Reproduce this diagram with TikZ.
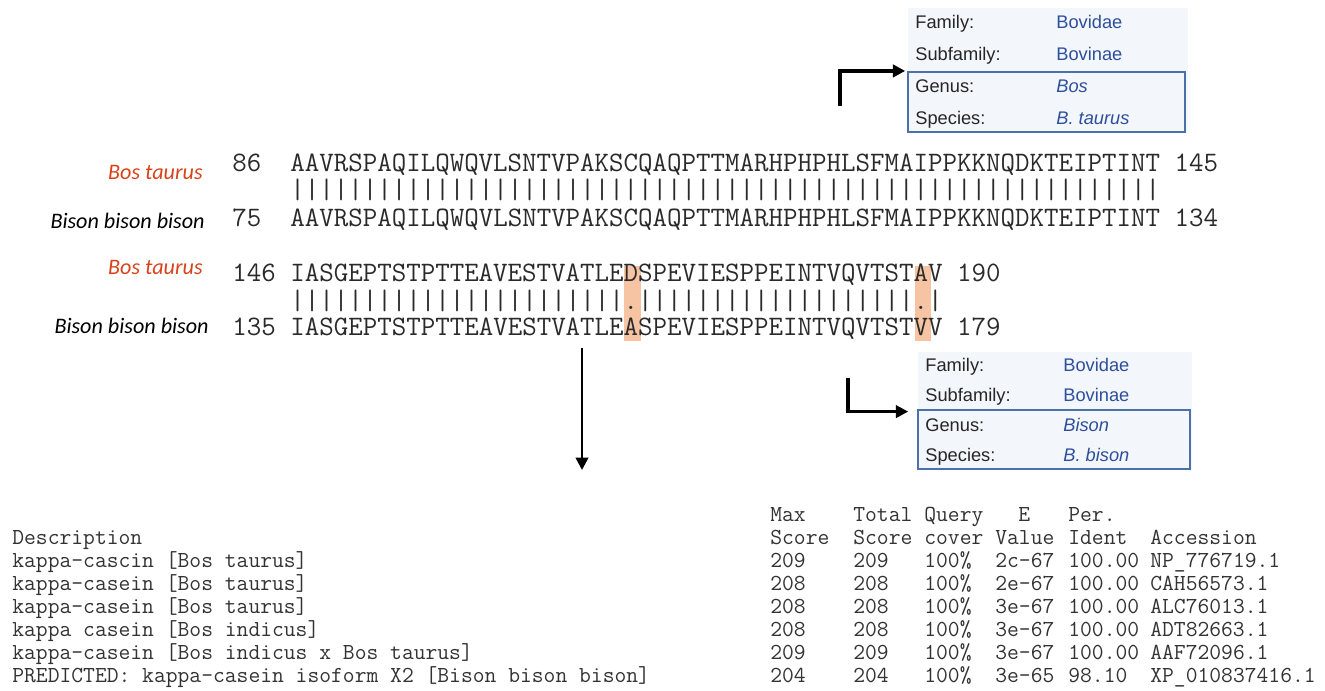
\documentclass[tikz,border=0pt]{standalone}
\usepackage{fontspec}
\usepackage{tikz}
\usetikzlibrary{arrows.meta}
\newfontfamily\taxfont{Liberation Sans}
\newfontfamily\spfont{Carlito}
\definecolor{taxblue}{HTML}{2E4F9C}
\definecolor{boxblue}{HTML}{4A72A8}
\definecolor{taxbg}{HTML}{F3F6FA}
\definecolor{hilite}{HTML}{F6C4A2}
\definecolor{bosred}{HTML}{D8431B}
\definecolor{seqgray}{HTML}{2A2A2A}
\tikzset{
  seq/.style={anchor=base west, inner sep=0pt, text=seqgray, font=\ttfamily\fontsize{16.02pt}{18pt}\selectfont},
  tbl/.style={anchor=base west, inner sep=0pt, text=black!80, font=\ttfamily\fontsize{13.05pt}{15pt}\selectfont},
  species/.style={anchor=base east, inner sep=0pt, font=\spfont\itshape\fontsize{12.6pt}{15pt}\selectfont},
  taxkey/.style={anchor=base west, inner sep=0pt, text=black!85, font=\taxfont\fontsize{10.4pt}{12pt}\selectfont},
  taxval/.style={taxkey, text=taxblue},
  genusbox/.style={draw=boxblue, line width=1.2pt, inner sep=0pt},
  bendarrow/.style={-{Triangle[length=7pt,width=7pt]}, line width=2pt},
}

\begin{document}
\begin{tikzpicture}[x=0.02cm, y=-0.02cm]
\useasboundingbox (0,0) rectangle (1325,690);

% taxonomy of Bos taurus
\fill[taxbg] (908,8) rectangle (1188,133);
\node[taxkey] (bosfam) at (915,28) {Family:};
\node[taxval] (bosfamv) at (1056,28) {Bovidae};
\node[taxkey] (bossub) at (915,60) {Subfamily:};
\node[taxval] (bossubv) at (1056,60) {Bovinae};
\node[taxkey] (bosgen) at (915,92) {Genus:};
\node[taxval, font=\taxfont\itshape\fontsize{10.4pt}{12pt}\selectfont] (bosgenv) at (1056,92) {Bos};
\node[taxkey] (bossp) at (915,124) {Species:};
\node[taxval, font=\taxfont\itshape\fontsize{10.4pt}{12pt}\selectfont] (bosspv) at (1056,124) {B. taurus};
\node[genusbox, minimum width=5.54cm, minimum height=1.2cm] (bosgenus) at (1046.5,102) {};

% taxonomy of Bison bison
\fill[taxbg] (918,352) rectangle (1192,470);
\node[taxkey] (bisfam) at (925,371) {Family:};
\node[taxval] (bisfamv) at (1063,371) {Bovidae};
\node[taxkey] (bissub) at (925,401) {Subfamily:};
\node[taxval] (bissubv) at (1063,401) {Bovinae};
\node[taxkey] (bisgen) at (925,431) {Genus:};
\node[taxval, font=\taxfont\itshape\fontsize{10.4pt}{12pt}\selectfont] (bisgenv) at (1063,431) {Bison};
\node[taxkey] (bissp) at (925,461) {Species:};
\node[taxval, font=\taxfont\itshape\fontsize{10.4pt}{12pt}\selectfont] (bisspv) at (1063,461) {B. bison};
\node[genusbox, minimum width=5.44cm, minimum height=1.18cm] (bisongenus) at (1054,439.5) {};

% changed residues
\fill[hilite] (624,266) rectangle (640.5,341);
\fill[hilite] (914.5,266) rectangle (931,341);

% alignment
\node[species, text=bosred] (sp1) at (203,179) {Bos taurus};
\node[species] (sp2) at (205,228) {Bison bison bison};
\node[species, text=bosred] (sp3) at (203,274) {Bos taurus};
\node[species] (sp4) at (209,333) {Bison bison bison};

\node[seq] (row1) at (232,171) {86~~AAVRSPAQILQWQVLSNTVPAKSCQAQPTTMARHPHPHLSFMAIPPKKNQDKTEIPTINT~145};
\node[seq] (bar1) at (290,198) {||||||||||||||||||||||||||||||||||||||||||||||||||||||||||||};
\node[seq] (row2) at (232,226) {75~~AAVRSPAQILQWQVLSNTVPAKSCQAQPTTMARHPHPHLSFMAIPPKKNQDKTEIPTINT~134};
\node[seq] (row3) at (232,281) {146~IASGEPTSTPTTEAVESTVATLEDSPEVIESPPEINTVQVTSTAV~190};
\node[seq] (bar2) at (290,309) {|||||||||||||||||||||||.|||||||||||||||||||.|};
\node[seq] (row4) at (232,335) {135~IASGEPTSTPTTEAVESTVATLEASPEVIESPPEINTVQVTSTVV~179};

% arrows
\coordinate (bosfrom) at (840,106);
\coordinate (bisonfrom) at (848,378);
\coordinate (downfrom) at (582,348);
\coordinate (downto) at (582,470);
\draw[bendarrow, shorten >=1pt] (bosfrom) |- (bosgenus.north west);
\draw[bendarrow, shorten >=5pt] (bisonfrom) |- ([yshift=-1.5pt]bisongenus.north west);
\draw[-{Triangle[length=7pt,width=7pt]}, line width=1.5pt] (downfrom) -- (downto);

% blast hits
\node[tbl] (hmax) at (770,521.5) {Max};
\node[tbl] (htotal) at (853,521.5) {Total};
\node[tbl] (hquery) at (924,521.5) {Query};
\node[tbl] (he) at (1018,521.5) {E};
\node[tbl] (hper) at (1068,521.5) {Per.};
\node[tbl] (hdesc) at (12,544.5) {Description};
\node[tbl] (hscore) at (770,544.5) {Score};
\node[tbl] (htscore) at (853,544.5) {Score};
\node[tbl] (hcover) at (924,544.5) {cover};
\node[tbl] (hvalue) at (995,544.5) {Value};
\node[tbl] (hident) at (1068,544.5) {Ident};
\node[tbl] (hacc) at (1150,544.5) {Accession};
\foreach \desc/\ms/\ev/\pid/\acc [count=\r] in {
  kappa-cascin [Bos taurus]/209/2c-67/100.00/NP\_776719.1,
  kappa-casein [Bos taurus]/208/2e-67/100.00/CAH56573.1,
  kappa-casein [Bos taurus]/208/3e-67/100.00/ALC76013.1,
  kappa casein [Bos indicus]/208/3e-67/100.00/ADT82663.1,
  kappa-casein [Bos indicus x Bos taurus]/209/3e-67/100.00/AAF72096.1,
  PREDICTED: kappa-casein isoform X2 [Bison bison bison]/204/3e-65/98.10/XP\_010837416.1}{
  \node[tbl] (desc\r) at (12,{544.5+23*\r}) {\desc};
  \node[tbl] (max\r) at (770,{544.5+23*\r}) {\ms};
  \node[tbl] (tot\r) at (853,{544.5+23*\r}) {\ms};
  \node[tbl] (cov\r) at (924,{544.5+23*\r}) {100\%};
  \node[tbl] (ev\r) at (995,{544.5+23*\r}) {\ev};
  \node[tbl] (pid\r) at (1068,{544.5+23*\r}) {\pid};
  \node[tbl] (acc\r) at (1150,{544.5+23*\r}) {\acc};
}
\end{tikzpicture}
\end{document}
